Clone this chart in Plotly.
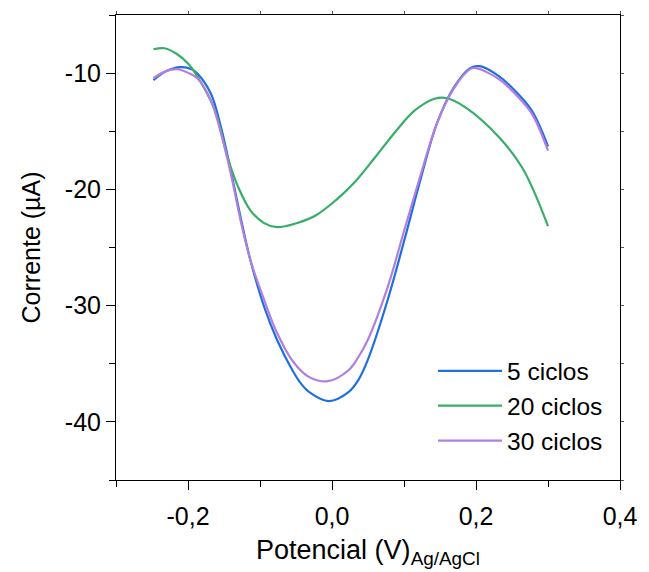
import plotly.graph_objects as go

# 5 ciclos
x_5 = [-0.248, -0.2305, -0.210, -0.195, -0.186, -0.168, -0.154, -0.1406, -0.127, -0.1134,
       -0.0943, -0.0766, -0.0534, -0.0425, -0.0316, -0.0044, 0.0229, 0.0365, 0.050, 0.0774,
       0.1005, 0.1237, 0.1455, 0.1687, 0.1918, 0.2054, 0.2327, 0.2545, 0.2777, 0.300]
y_5 = [-10.60, -9.83, -9.49, -9.66, -10.09, -11.79, -14.70, -18.38, -22.39, -26.07,
       -30.09, -32.91, -35.73, -36.75, -37.44, -38.21, -37.44, -36.41, -34.62, -29.49,
       -24.36, -18.97, -14.36, -11.28, -9.57, -9.40, -10.30, -11.54, -13.25, -16.30]

# 20 ciclos
x_20 = [-0.248, -0.233, -0.217, -0.199, -0.1815, -0.1624, -0.1447, -0.131, -0.1134, -0.0943,
        -0.0766, -0.0493, -0.0221, 0.0052, 0.0324, 0.0597, 0.0869, 0.1142, 0.1414, 0.1591,
        0.1864, 0.2327, 0.264, 0.2817, 0.300]
y_20 = [-7.95, -7.86, -8.29, -9.23, -10.85, -13.25, -17.30, -19.70, -21.80, -22.90,
        -23.25, -22.91, -22.22, -20.94, -19.32, -17.26, -15.13, -13.25, -12.22, -12.14,
        -12.99, -15.56, -18.12, -20.34, -23.16]

# 30 ciclos
x_30 = [-0.248, -0.2305, -0.2155, -0.199, -0.186, -0.168, -0.154, -0.1406, -0.127, -0.1134,
        -0.0943, -0.0766, -0.0534, -0.0316, -0.0057, 0.0229, 0.0365, 0.050, 0.0774, 0.1005,
        0.1237, 0.1455, 0.1687, 0.1918, 0.200, 0.2327, 0.2545, 0.2777, 0.300]
y_30 = [-10.43, -9.83, -9.66, -10.00, -10.51, -12.39, -15.21, -18.63, -22.65, -26.07,
        -29.49, -32.31, -34.87, -36.15, -36.50, -35.56, -34.44, -32.91, -28.38, -23.50,
        -18.63, -14.36, -11.37, -9.66, -9.57, -10.55, -11.79, -13.50, -16.67]

series_names = ["5 ciclos", "20 ciclos", "30 ciclos"]
colors = ["#1f6fe3", "#38ad68", "#b27fdf"]

x_tickvals = [-0.2, 0.0, 0.2, 0.4]
x_ticktext = ["-0,2", "0,0", "0,2", "0,4"]
y_tickvals = [-10, -20, -30, -40]
y_ticktext = ["-10", "-20", "-30", "-40"]
x_mirror_ticks = [-0.3, -0.2, -0.1, 0.0, 0.1, 0.2, 0.3, 0.4]
y_mirror_ticks = [-45, -40, -35, -30, -25, -20, -15, -10, -5]

fig = go.Figure()
for name, xs, ys, c in zip(series_names, [x_5, x_20, x_30], [y_5, y_20, y_30], colors):
    fig.add_trace(go.Scatter(x=xs, y=ys, mode="lines", name=name,
                             line=dict(color=c, width=2.2, shape="spline", smoothing=1.0)))
# empty trace so the top/right mirror axes get drawn
fig.add_trace(go.Scatter(x=[], y=[], xaxis="x2", yaxis="y2", showlegend=False,
                         hoverinfo="skip"))

font_family = "Liberation Sans, Arial, sans-serif"
fig.update_layout(
    width=649, height=572,
    margin=dict(l=116, r=21, t=14, b=91),
    paper_bgcolor="white", plot_bgcolor="white",
    font=dict(family=font_family, color="black", size=25),
    legend=dict(x=0.629, y=0.283, xanchor="left", yanchor="top",
                bgcolor="rgba(0,0,0,0)", font=dict(size=24.5), tracegroupgap=0,
                itemwidth=64),
    showlegend=True,
    xaxis=dict(
        range=[-0.3, 0.4], tickvals=x_tickvals, ticktext=x_ticktext,
        ticks="outside", ticklen=9, tickwidth=1, tickcolor="black",
        minor=dict(dtick=0.1, tick0=-0.3, ticks="outside", ticklen=6, tickcolor="black"),
        showline=True, linecolor="black", linewidth=1, mirror=True,
        showgrid=False, zeroline=False, ticklabelstandoff=5,
        tickfont=dict(size=25),
        title=dict(text="Potencial (V)<sub>Ag/AgCl</sub>", font=dict(size=27), standoff=11),
    ),
    yaxis=dict(
        range=[-45, -5], tickvals=y_tickvals, ticktext=y_ticktext,
        ticks="outside", ticklen=9, tickwidth=1, tickcolor="black",
        minor=dict(dtick=5, tick0=-45, ticks="outside", ticklen=6, tickcolor="black"),
        showline=True, linecolor="black", linewidth=1, mirror=True,
        showgrid=False, zeroline=False,
        tickfont=dict(size=25),
        title=dict(text="Corrente (µA)", font=dict(size=25), standoff=17),
    ),
    xaxis2=dict(overlaying="x", side="top", anchor="y2",
                range=[-0.3, 0.4], tickvals=x_mirror_ticks,
                showticklabels=False, ticks="outside", ticklen=3, tickcolor="#555",
                showgrid=False, zeroline=False, showline=False),
    yaxis2=dict(overlaying="y", side="right", anchor="x2",
                range=[-45, -5], tickvals=y_mirror_ticks,
                showticklabels=False, ticks="outside", ticklen=3, tickcolor="#555",
                showgrid=False, zeroline=False, showline=False),
)

fig.write_html("out.html")
